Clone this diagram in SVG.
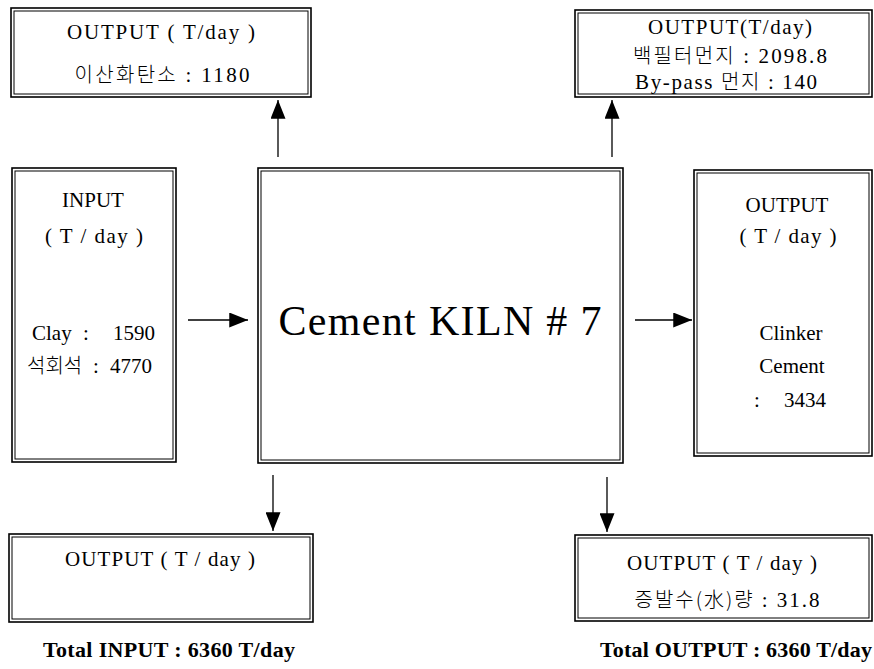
<svg xmlns="http://www.w3.org/2000/svg" width="874" height="669" viewBox="0 0 874 669">
<style>
.o{fill:none;stroke:#000;stroke-width:1.6}
.i{fill:none;stroke:#000;stroke-width:1}
text{font-family:"Liberation Serif","Noto Sans CJK KR",serif;font-size:21px;fill:#000;text-anchor:middle}
.l{text-anchor:start}
.k{font-family:"Noto Sans CJK KR","Liberation Serif",sans-serif;font-size:20px;font-weight:300}
.big{font-size:42px}
.tot{font-size:22px;font-weight:bold;text-anchor:start}
.c{stroke:#000;stroke-width:1.3;fill:none}
</style>
<defs>
<marker id="ah" viewBox="0 0 20 16" refX="20" refY="8" markerWidth="19" markerHeight="15" markerUnits="userSpaceOnUse" orient="auto">
<path d="M0,0 L20,8 L0,16 Z" fill="#000"/>
</marker>
</defs>
<rect width="874" height="669" fill="#fff"/>
<g id="out-co2">
<rect class="o" x="11" y="8" width="300" height="89"/>
<rect class="i" x="14" y="11" width="294" height="83"/>
<text x="161" y="39" textLength="188" lengthAdjust="spacing">OUTPUT ( T/day )</text>
<text x="162" y="82" textLength="175" lengthAdjust="spacing"><tspan class="k">이산화탄소</tspan> : 1180</text>
</g>
<g id="out-dust">
<rect class="o" x="575" y="10" width="297" height="87"/>
<rect class="i" x="578" y="13" width="291" height="81"/>
<text x="730" y="34" textLength="164" lengthAdjust="spacing">OUTPUT(T/day)</text>
<text x="730" y="63" textLength="194" lengthAdjust="spacing"><tspan class="k">백필터먼지</tspan> : 2098.8</text>
<text x="726" y="89" textLength="182" lengthAdjust="spacing">By-pass <tspan class="k">먼지</tspan> : 140</text>
</g>
<g id="input">
<rect class="o" x="12" y="168" width="164" height="294"/>
<rect class="i" x="15" y="171" width="158" height="288"/>
<text x="93" y="207">INPUT</text>
<text x="94" y="243" textLength="98" lengthAdjust="spacing">( T / day )</text>
<text class="l" y="340"><tspan x="32">Clay</tspan><tspan x="83">:</tspan><tspan x="113">1590</tspan></text>
<text class="l" y="373"><tspan class="k" x="27">석회석</tspan><tspan x="93">:</tspan><tspan x="110">4770</tspan></text>
</g>
<g id="kiln">
<rect class="o" x="258" y="168" width="365" height="295"/>
<rect class="i" x="261" y="171" width="359" height="289"/>
<text class="big" x="440" y="335" textLength="323" lengthAdjust="spacing">Cement  KILN # 7</text>
</g>
<g id="out-clinker">
<rect class="o" x="694" y="170" width="178" height="286"/>
<rect class="i" x="697" y="173" width="172" height="280"/>
<text x="787" y="212">OUTPUT</text>
<text x="788" y="243" textLength="97" lengthAdjust="spacing">( T / day )</text>
<text x="791" y="340">Clinker</text>
<text x="792" y="373">Cement</text>
<text class="l" y="407"><tspan x="754">:</tspan><tspan x="784">3434</tspan></text>
</g>
<g id="out-bottom-left">
<rect class="o" x="9" y="534" width="304" height="88"/>
<rect class="i" x="12" y="537" width="298" height="82"/>
<text x="160" y="566" textLength="190" lengthAdjust="spacing">OUTPUT ( T / day )</text>
</g>
<g id="out-water">
<rect class="o" x="575" y="535" width="297" height="86"/>
<rect class="i" x="578" y="538" width="291" height="80"/>
<text x="722" y="570" textLength="190" lengthAdjust="spacing">OUTPUT ( T / day )</text>
<text x="727" y="607" textLength="185" lengthAdjust="spacing"><tspan class="k">증발수(水)량</tspan> : 31.8</text>
</g>
<g id="totals">
<text class="tot" x="43" y="657" textLength="252" lengthAdjust="spacing">Total INPUT : 6360 T/day</text>
<text class="tot" x="600" y="657" textLength="272" lengthAdjust="spacing">Total OUTPUT : 6360 T/day</text>
</g>
<g id="connectors">
<line class="c" x1="278" y1="157" x2="278" y2="100" marker-end="url(#ah)"/>
<line class="c" x1="612" y1="157" x2="612" y2="100" marker-end="url(#ah)"/>
<line class="c" x1="188" y1="320" x2="248" y2="320" marker-end="url(#ah)"/>
<line class="c" x1="635" y1="320" x2="692" y2="320" marker-end="url(#ah)"/>
<line class="c" x1="273" y1="475" x2="273" y2="531" marker-end="url(#ah)"/>
<line class="c" x1="607" y1="477" x2="607" y2="532" marker-end="url(#ah)"/>
</g>
</svg>
